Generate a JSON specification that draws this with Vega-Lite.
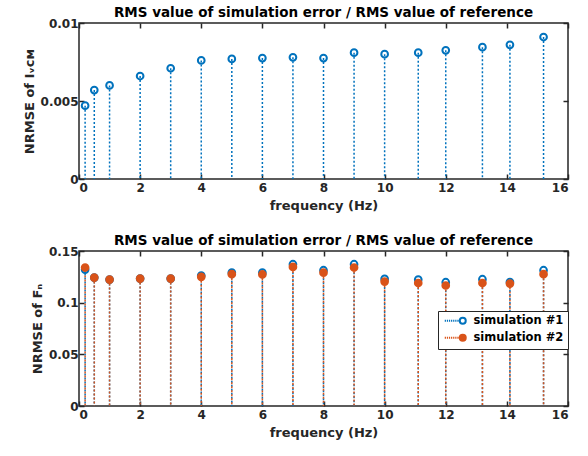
{
  "$schema": "https://vega.github.io/schema/vega-lite/v6.json",
  "background": "white",
  "padding": {"left": 22, "top": 4, "right": 10, "bottom": 2},
  "config": {
    "font": "DejaVu Sans",
    "view": {"stroke": "#262626", "strokeWidth": 1.5},
    "axis": {
      "grid": false,
      "domain": false,
      "tickColor": "#262626",
      "tickWidth": 1.5,
      "tickSize": -5,
      "labelFont": "DejaVu Sans",
      "labelFontWeight": "bold",
      "labelFontSize": 12,
      "labelColor": "#262626",
      "labelPadding": 6,
      "titleFont": "DejaVu Sans",
      "titleFontWeight": "bold",
      "titleFontSize": 13,
      "titleColor": "#262626"
    },
    "axisBottom": {"labelPadding": 8, "titlePadding": 6},
    "legend": {
      "labelFont": "DejaVu Sans", "labelFontWeight": "bold", "labelFontSize": 11.5, "labelColor": "#000000"
    },
    "title": {"font": "DejaVu Sans", "fontSize": 13.5, "fontWeight": "bold", "color": "#000000", "offset": -2},
    "concat": {"spacing": 19}
  },
  "datasets": {
    "ivcm": [
      {"freq": 0.2, "value": 0.0047},
      {"freq": 0.5, "value": 0.0057},
      {"freq": 1, "value": 0.0060},
      {"freq": 2, "value": 0.0066},
      {"freq": 3, "value": 0.0071},
      {"freq": 4, "value": 0.0076},
      {"freq": 5, "value": 0.0077},
      {"freq": 6, "value": 0.00775},
      {"freq": 7, "value": 0.0078},
      {"freq": 8, "value": 0.00775},
      {"freq": 9, "value": 0.0081},
      {"freq": 10, "value": 0.0080},
      {"freq": 11.1, "value": 0.0081},
      {"freq": 12, "value": 0.00825},
      {"freq": 13.2, "value": 0.00845},
      {"freq": 14.1, "value": 0.0086},
      {"freq": 15.2, "value": 0.0091}
    ],
    "fn": [
      {"series": "simulation #1", "freq": 0.2, "value": 0.132},
      {"series": "simulation #1", "freq": 0.5, "value": 0.1243},
      {"series": "simulation #1", "freq": 1, "value": 0.1223},
      {"series": "simulation #1", "freq": 2, "value": 0.1233},
      {"series": "simulation #1", "freq": 3, "value": 0.1233},
      {"series": "simulation #1", "freq": 4, "value": 0.1262},
      {"series": "simulation #1", "freq": 5, "value": 0.129},
      {"series": "simulation #1", "freq": 6, "value": 0.129},
      {"series": "simulation #1", "freq": 7, "value": 0.1372},
      {"series": "simulation #1", "freq": 8, "value": 0.1314},
      {"series": "simulation #1", "freq": 9, "value": 0.1372},
      {"series": "simulation #1", "freq": 10, "value": 0.123},
      {"series": "simulation #1", "freq": 11.1, "value": 0.1223},
      {"series": "simulation #1", "freq": 12, "value": 0.1198},
      {"series": "simulation #1", "freq": 13.2, "value": 0.1227},
      {"series": "simulation #1", "freq": 14.1, "value": 0.120},
      {"series": "simulation #1", "freq": 15.2, "value": 0.1314},
      {"series": "simulation #2", "freq": 0.2, "value": 0.134},
      {"series": "simulation #2", "freq": 0.5, "value": 0.1243},
      {"series": "simulation #2", "freq": 1, "value": 0.1223},
      {"series": "simulation #2", "freq": 2, "value": 0.1233},
      {"series": "simulation #2", "freq": 3, "value": 0.1233},
      {"series": "simulation #2", "freq": 4, "value": 0.125},
      {"series": "simulation #2", "freq": 5, "value": 0.1276},
      {"series": "simulation #2", "freq": 6, "value": 0.1273},
      {"series": "simulation #2", "freq": 7, "value": 0.1346},
      {"series": "simulation #2", "freq": 8, "value": 0.129},
      {"series": "simulation #2", "freq": 9, "value": 0.134},
      {"series": "simulation #2", "freq": 10, "value": 0.1204},
      {"series": "simulation #2", "freq": 11.1, "value": 0.119},
      {"series": "simulation #2", "freq": 12, "value": 0.1166},
      {"series": "simulation #2", "freq": 13.2, "value": 0.119},
      {"series": "simulation #2", "freq": 14.1, "value": 0.1185},
      {"series": "simulation #2", "freq": 15.2, "value": 0.1276}
    ]
  },
  "resolve": {"legend": {"stroke": "independent", "fill": "independent"}},
  "vconcat": [
    {
      "width": 489,
      "height": 156,
      "title": "RMS value of simulation error / RMS value of reference",
      "data": {"name": "ivcm"},
      "layer": [
        {
          "mark": {"type": "rule", "color": "#0072BD", "strokeDash": [2, 2], "strokeWidth": 1.5},
          "encoding": {
            "x": {"field": "freq", "type": "quantitative", "scale": {"domain": [0, 16], "nice": false},
                  "axis": {"orient": "bottom", "values": [0, 2, 4, 6, 8, 10, 12, 14, 16], "title": "frequency (Hz)"}},
            "y": {"field": "value", "type": "quantitative", "scale": {"domain": [0, 0.01], "nice": false},
                  "axis": {"orient": "left", "values": [0, 0.005, 0.01], "format": ".3~f", "title": "NRMSE of Iᵥᴄᴍ"}},
            "y2": {"datum": 0}
          }
        },
        {
          "mark": {"type": "point", "filled": false, "color": "#0072BD", "strokeWidth": 2, "size": 45, "opacity": 1},
          "encoding": {
            "x": {"field": "freq", "type": "quantitative",
                  "axis": {"orient": "top", "values": [0, 2, 4, 6, 8, 10, 12, 14, 16], "labels": false, "title": null, "labelPadding": 0, "maxExtent": 0, "minExtent": 0}},
            "y": {"field": "value", "type": "quantitative",
                  "axis": {"orient": "right", "values": [0, 0.005, 0.01], "labels": false, "title": null, "labelPadding": 0, "maxExtent": 0, "minExtent": 0}}
          }
        }
      ],
      "resolve": {"axis": {"x": "independent", "y": "independent"}}
    },
    {
      "width": 489,
      "height": 155,
      "title": "RMS value of simulation error / RMS value of reference",
      "data": {"name": "fn"},
      "layer": [
        {
          "mark": {"type": "rule", "strokeDash": [2, 2], "strokeWidth": 1.5},
          "encoding": {
            "x": {"field": "freq", "type": "quantitative", "scale": {"domain": [0, 16], "nice": false},
                  "axis": {"orient": "bottom", "values": [0, 2, 4, 6, 8, 10, 12, 14, 16], "title": "frequency (Hz)"}},
            "y": {"field": "value", "type": "quantitative", "scale": {"domain": [0, 0.15], "nice": false},
                  "axis": {"orient": "left", "values": [0, 0.05, 0.1, 0.15], "format": ".3~f", "title": "NRMSE of Fₙ"}},
            "y2": {"datum": 0},
            "stroke": {"field": "series", "type": "nominal",
                       "scale": {"domain": ["simulation #1", "simulation #2"], "range": ["#0072BD", "#D95319"]},
                       "legend": {"title": null, "orient": "none", "legendX": 359, "legendY": 60,
                                  "strokeColor": "#262626", "fillColor": "white", "padding": 4,
                                  "symbolType": "M1,0A1,1,0,1,1,-1,0A1,1,0,1,1,1,0ZM-6,0h0.4M-5.3,0h0.4M-4.6,0h0.4M-3.9,0h0.4M-3.2,0h0.4M-2.5,0h0.4M-1.8,0h0.4",
                                  "symbolSize": 36, "symbolOffset": 15, "symbolStrokeWidth": 2, "rowPadding": 2, "labelOffset": 5}}
          }
        },
        {
          "mark": {"type": "point", "strokeWidth": 2, "size": 45, "opacity": 1},
          "encoding": {
            "x": {"field": "freq", "type": "quantitative",
                  "axis": {"orient": "top", "values": [0, 2, 4, 6, 8, 10, 12, 14, 16], "labels": false, "title": null, "labelPadding": 0, "maxExtent": 0, "minExtent": 0}},
            "y": {"field": "value", "type": "quantitative",
                  "axis": {"orient": "right", "values": [0, 0.05, 0.1, 0.15], "labels": false, "title": null, "labelPadding": 0, "maxExtent": 0, "minExtent": 0}},
            "stroke": {"field": "series", "type": "nominal"},
            "fill": {"field": "series", "type": "nominal",
                     "scale": {"domain": ["simulation #1", "simulation #2"], "range": ["transparent", "#D95319"]},
                     "legend": {"title": null, "orient": "none", "legendX": 359, "legendY": 60,
                                "strokeColor": "#262626", "fillColor": "white", "padding": 4,
                                "symbolType": "M1,0A1,1,0,1,1,-1,0A1,1,0,1,1,1,0ZM-6,0h0.4M-5.3,0h0.4M-4.6,0h0.4M-3.9,0h0.4M-3.2,0h0.4M-2.5,0h0.4M-1.8,0h0.4",
                                "symbolSize": 36, "symbolOffset": 15, "symbolStrokeWidth": 2, "rowPadding": 2, "labelOffset": 5}}
          }
        }
      ],
      "resolve": {"axis": {"x": "independent", "y": "independent"}}
    }
  ]
}
